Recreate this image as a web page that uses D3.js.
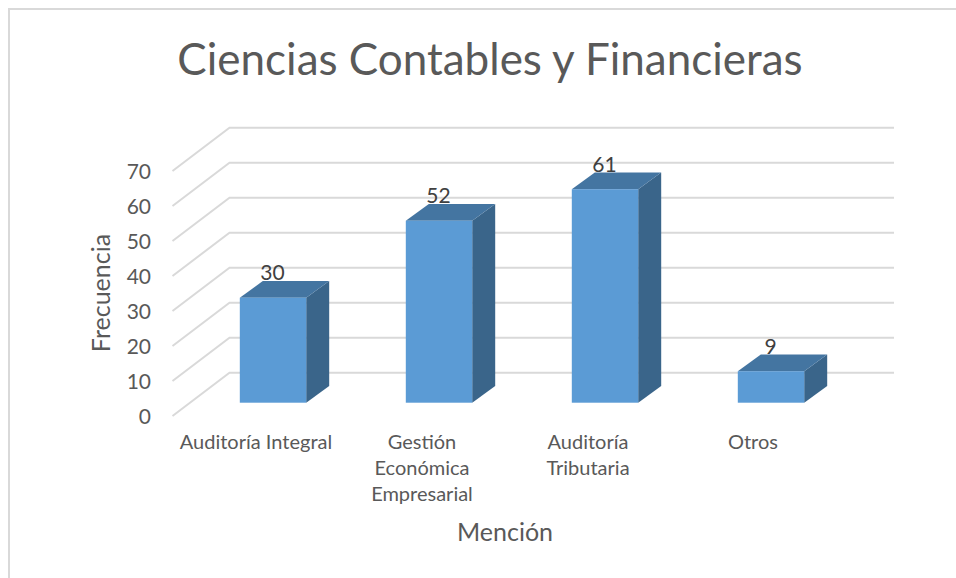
<!DOCTYPE html>
<meta charset="utf-8">
<script src="https://d3js.org/d3.v7.min.js"></script>
<style>
	html, body {margin: 0; background: #fff;}
	svg {display: block;}
	text {font-family: Lato, sans-serif;}
</style>
<div id="my_dataviz"></div>
<script>

// values
var categories = ["Auditoría Integral", "Gestión Económica Empresarial", "Auditoría Tributaria", "Otros"];
var categoryLines = [["Auditoría Integral"], ["Gestión", "Económica", "Empresarial"], ["Auditoría", "Tributaria"], ["Otros"]];
var labelX = [256, 422, 588, 753];
var values = [30, 52, 61, 9];
var yTicks = [0, 10, 20, 30, 40, 50, 60, 70];

var width = 956, height = 578;

var svg = d3.select("#my_dataviz")
  .append("svg")
    .attr("width", width)
    .attr("height", height);

// outer frame, only top and left show
svg.append("path")
  .attr("d", "M9,578V9H956")
  .attr("fill", "none")
  .attr("stroke", "#d9d9d9")
  .attr("stroke-width", 2);

svg.append("text")
  .attr("x", 490).attr("y", 75)
  .attr("text-anchor", "middle")
  .attr("font-size", 44)
  .attr("fill", "#595959")
  .text("Ciencias Contables y Financieras");

// scales: back wall, bar front plane, tick labels
var x = d3.scaleBand()
  .domain(categories)
  .range([190, 854])
  .paddingInner(0.6)
  .paddingOuter(0.3);
var yBack = d3.scaleLinear().domain([0, 70]).range([372.7, 127.7]);
var yBar = d3.scaleLinear().domain([0, 70]).range([402.7, 157.7]);
var yLabel = d3.scaleLinear().domain([0, 70]).range([416.5, 171.5]);

var wallDx = 57, wallDy = 43.3, barDx = 23, barDy = 16.7;

// grid
var grid = svg.append("g")
  .attr("fill", "none")
  .attr("stroke", "#d9d9d9")
  .attr("stroke-width", 2);
grid.selectAll("path")
  .data(yTicks)
  .enter()
  .append("path")
    .attr("d", function(d) {
      return "M" + (229.5 - wallDx) + "," + (yBack(d) + wallDy) + "L229.5," + yBack(d) + "H894";
    });

// y axis labels
var yAxis = svg.append("g")
  .attr("transform", "translate(151,0)")
  .call(d3.axisLeft(yLabel).tickValues(yTicks).tickSize(0).tickPadding(0));
yAxis.select(".domain").remove();
yAxis.selectAll("text")
  .attr("font-size", 21)
  .style("font-family", "Lato, sans-serif")
  .attr("fill", "#595959");

// bars
var bars = svg.selectAll("g.bar")
  .data(categories)
  .enter()
  .append("g")
    .attr("class", "bar");

bars.append("path")
  .attr("fill", "#3a658a")
  .attr("d", function(d, i) {
    var x1 = x(d) + x.bandwidth();
    return "M" + x1 + "," + yBar(values[i]) + "l" + barDx + "," + (-barDy) +
      "V" + (yBar(0) - barDy) + "L" + x1 + "," + yBar(0) + "Z";
  });
bars.append("path")
  .attr("fill", "#4475a1")
  .attr("d", function(d, i) {
    var t = yBar(values[i]);
    return "M" + x(d) + "," + t + "l" + barDx + "," + (-barDy) + "h" + x.bandwidth() +
      "l" + (-barDx) + "," + barDy + "Z";
  });
bars.append("rect")
  .attr("x", function(d) { return x(d); })
  .attr("y", function(d, i) { return yBar(values[i]); })
  .attr("width", x.bandwidth())
  .attr("height", function(d, i) { return yBar(0) - yBar(values[i]); })
  .attr("fill", "#5b9bd5");

// value labels
bars.append("text")
  .attr("x", function(d) { return x(d) + x.bandwidth() / 2 - 0.5; })
  .attr("y", function(d, i) { return yBar(values[i]) - 17.5; })
  .attr("text-anchor", "middle")
  .attr("font-size", 21)
  .attr("fill", "#404040")
  .text(function(d, i) { return values[i]; });

// category labels
var catLabels = svg.selectAll("text.cat")
  .data(categoryLines)
  .enter()
  .append("text")
    .attr("class", "cat")
    .attr("text-anchor", "middle")
    .attr("font-size", 20)
    .attr("fill", "#595959");
catLabels.selectAll("tspan")
  .data(function(d, i) { return d.map(function(t) { return {t: t, i: i}; }); })
  .enter()
  .append("tspan")
    .attr("x", function(d) { return labelX[d.i]; })
    .attr("y", function(d, j) { return 449 + j * 26; })
    .text(function(d) { return d.t; });

// axis titles
svg.append("text")
  .attr("x", 505).attr("y", 541)
  .attr("text-anchor", "middle")
  .attr("font-size", 25)
  .attr("fill", "#595959")
  .text("Mención");
svg.append("text")
  .attr("transform", "translate(110,293)rotate(-90)")
  .attr("text-anchor", "middle")
  .attr("font-size", 25)
  .attr("fill", "#595959")
  .text("Frecuencia");

</script>
